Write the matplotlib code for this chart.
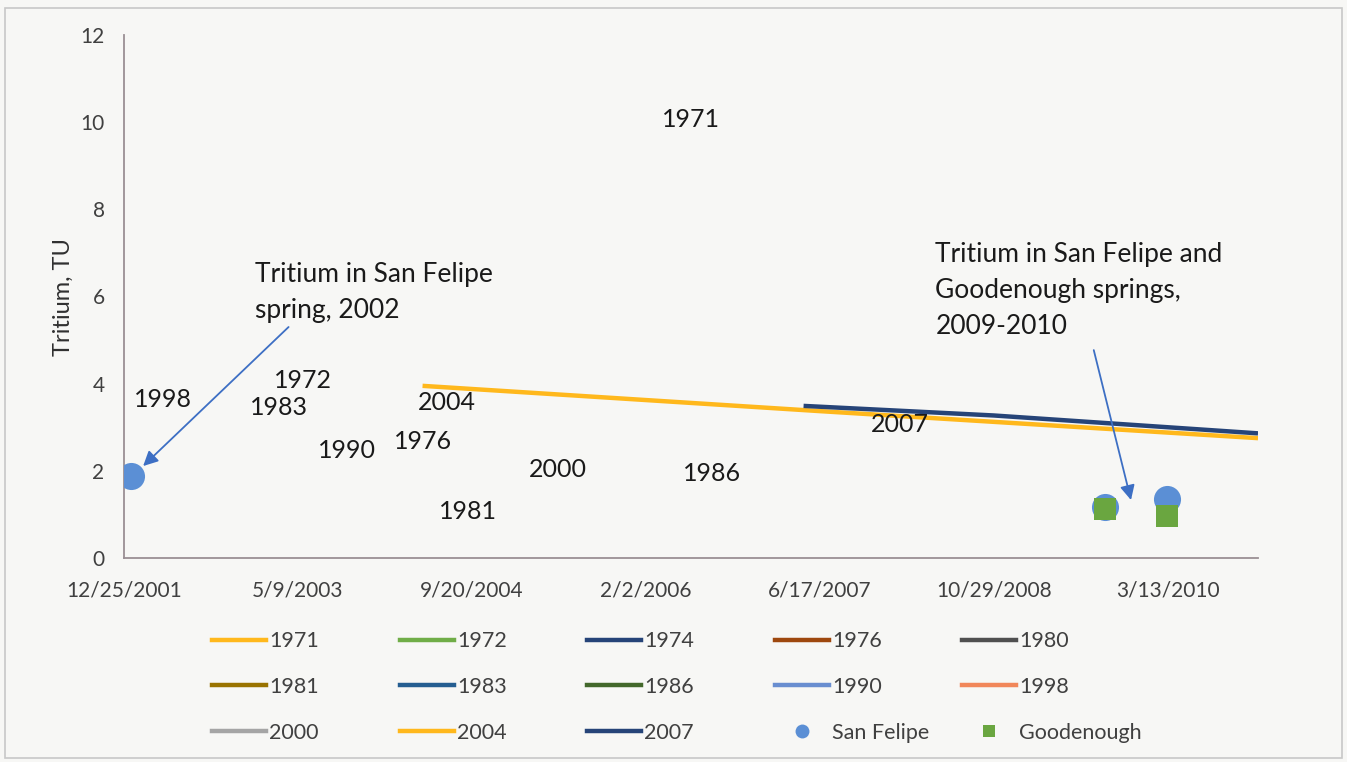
import matplotlib
matplotlib.use("Agg")
from matplotlib import pyplot as plt
from matplotlib.lines import Line2D
from matplotlib.patches import Rectangle
import pandas as pd

plt.rcParams['font.family'] = ['Lato', 'DejaVu Sans']

# decay lines that fall inside the plotted window
line_2004_dates = ['2004-05-01', '2007-06-17', '2010-11-27']
line_2004_tu = [3.95, 3.37, 2.75]
line_2007_dates = ['2007-05-01', '2008-10-29', '2010-11-27']
line_2007_tu = [3.49, 3.27, 2.86]

# spring samples
san_felipe_dates = ['2002-01-14', '2009-09-13', '2010-03-10']
san_felipe_tu = [1.88, 1.17, 1.35]
goodenough_dates = ['2009-09-13', '2010-03-10']
goodenough_tu = [1.12, 0.97]

# recharge-year series (legend order) and their colours
years = ['1971', '1972', '1974', '1976', '1980',
         '1981', '1983', '1986', '1990', '1998',
         '2000', '2004', '2007']
year_colors = ['#FFB81C', '#70AD47', '#264478', '#9E480E', '#505050',
               '#997300', '#255E91', '#43682B', '#698ED0', '#F1875A',
               '#A5A5A5', '#FFB81C', '#264478']

# year labels scattered over the plot
label_text = ['1971', '1972', '1983', '1998', '1990', '1976',
              '2004', '2000', '1986', '1981', '2007']
label_dates = ['2006-06-11', '2003-05-23', '2003-03-15', '2002-04-16',
               '2003-09-26', '2004-05-02', '2004-07-10', '2005-05-25',
               '2006-08-11', '2004-09-09', '2008-02-01']
label_tu = [10.05, 4.08, 3.46, 3.63, 2.46, 2.68, 3.56, 2.02, 1.95, 1.06, 3.07]

tick_labels = ['12/25/2001', '5/9/2003', '9/20/2004', '2/2/2006',
               '6/17/2007', '10/29/2008', '3/13/2010']

bg = '#f7f7f5'
fig = plt.figure(figsize=(13.47, 7.62), dpi=100, facecolor=bg)
ax = fig.add_axes([124 / 1347, 1 - 558 / 762, (1258 - 124) / 1347, (558 - 35) / 762])
ax.set_facecolor('none')

to_dt = pd.to_datetime

ax.plot(to_dt(line_2004_dates), line_2004_tu, color=year_colors[11], lw=3.2,
        solid_capstyle='butt', zorder=2)
ax.plot(to_dt(line_2007_dates), line_2007_tu, color=year_colors[12], lw=3.2,
        solid_capstyle='butt', zorder=3)

ax.plot(to_dt(san_felipe_dates), san_felipe_tu, 'o', color='#5B8FD5',
        markersize=19.5, markeredgewidth=0, zorder=4)
ax.plot(to_dt(goodenough_dates), goodenough_tu, 's', color='#6AA640',
        markersize=16.5, markeredgewidth=0, zorder=5)

for txt, d, v in zip(label_text, label_dates, label_tu):
    ax.text(to_dt(d), v, txt, ha='center', va='center', fontsize=18,
            color='#1a1a1a', zorder=6)

# callouts
arrow_kw = dict(arrowstyle='-|>', color='#3D6FC4', lw=1.3, mutation_scale=22,
                shrinkA=0, shrinkB=0)
ax.text(to_dt('2003-01-05'), 6.80, 'Tritium in San Felipe\nspring, 2002',
        ha='left', va='top', fontsize=19, linespacing=1.55, color='#1a1a1a')
ax.annotate('', xy=(to_dt('2002-02-18'), 2.11), xytext=(to_dt('2003-04-12'), 5.30),
            arrowprops=arrow_kw)
ax.text(to_dt('2008-05-14'), 7.25,
        'Tritium in San Felipe and\nGoodenough springs,\n2009-2010',
        ha='left', va='top', fontsize=19, linespacing=1.55, color='#1a1a1a')
ax.annotate('', xy=(to_dt('2009-11-27'), 1.33), xytext=(to_dt('2009-08-12'), 4.77),
            arrowprops=arrow_kw)

# axes
ax.set_ylim(0, 12)
ax.set_yticks(range(0, 13, 2))
ax.set_xlim(to_dt('2001-12-25'), to_dt('2010-11-27'))
ax.set_xticks(to_dt(tick_labels, format='%m/%d/%Y'))
ax.set_xticklabels(tick_labels)
ax.tick_params(axis='both', length=0, labelsize=15, labelcolor='#404040')
ax.tick_params(axis='x', pad=16)
ax.tick_params(axis='y', pad=14)
for side in ['top', 'right']:
    ax.spines[side].set_visible(False)
for side in ['left', 'bottom']:
    ax.spines[side].set_color('#9a8f94')
    ax.spines[side].set_linewidth(1.3)
ax.set_ylabel('Tritium, TU', fontsize=17, color='#303030', labelpad=5)

# legend: 5 columns, 3 rows, laid out column by column
handles = [Line2D([], [], color=c, lw=3.2) for c in year_colors]
handles.append(Line2D([], [], ls='none', marker='o', color='#5B8FD5',
                      markersize=10, markeredgewidth=0))
handles.append(Line2D([], [], ls='none', marker='s', color='#6AA640',
                      markersize=9, markeredgewidth=0))
labels = years + ['San Felipe', 'Goodenough']
col_x = [212, 400, 587, 775, 962]
for c, x in enumerate(col_x):
    idx = [r * 5 + c for r in range(3)]
    fig.legend([handles[i] for i in idx], [labels[i] for i in idx],
               loc='center left', bbox_to_anchor=(x / 1347, 1 - 687 / 762),
               frameon=False, fontsize=15.5, handlelength=2.5, handletextpad=0.15,
               labelspacing=1.2, borderpad=0, borderaxespad=0,
               labelcolor='#404040')

fig.patches.append(Rectangle((5 / 1347, 1 - 758 / 762), 1337 / 1347, 750 / 762,
                             transform=fig.transFigure, fill=False,
                             edgecolor='#c8c8c8', lw=1.2))

plt.savefig('out.png', dpi=100, facecolor=bg)
plt.close()
